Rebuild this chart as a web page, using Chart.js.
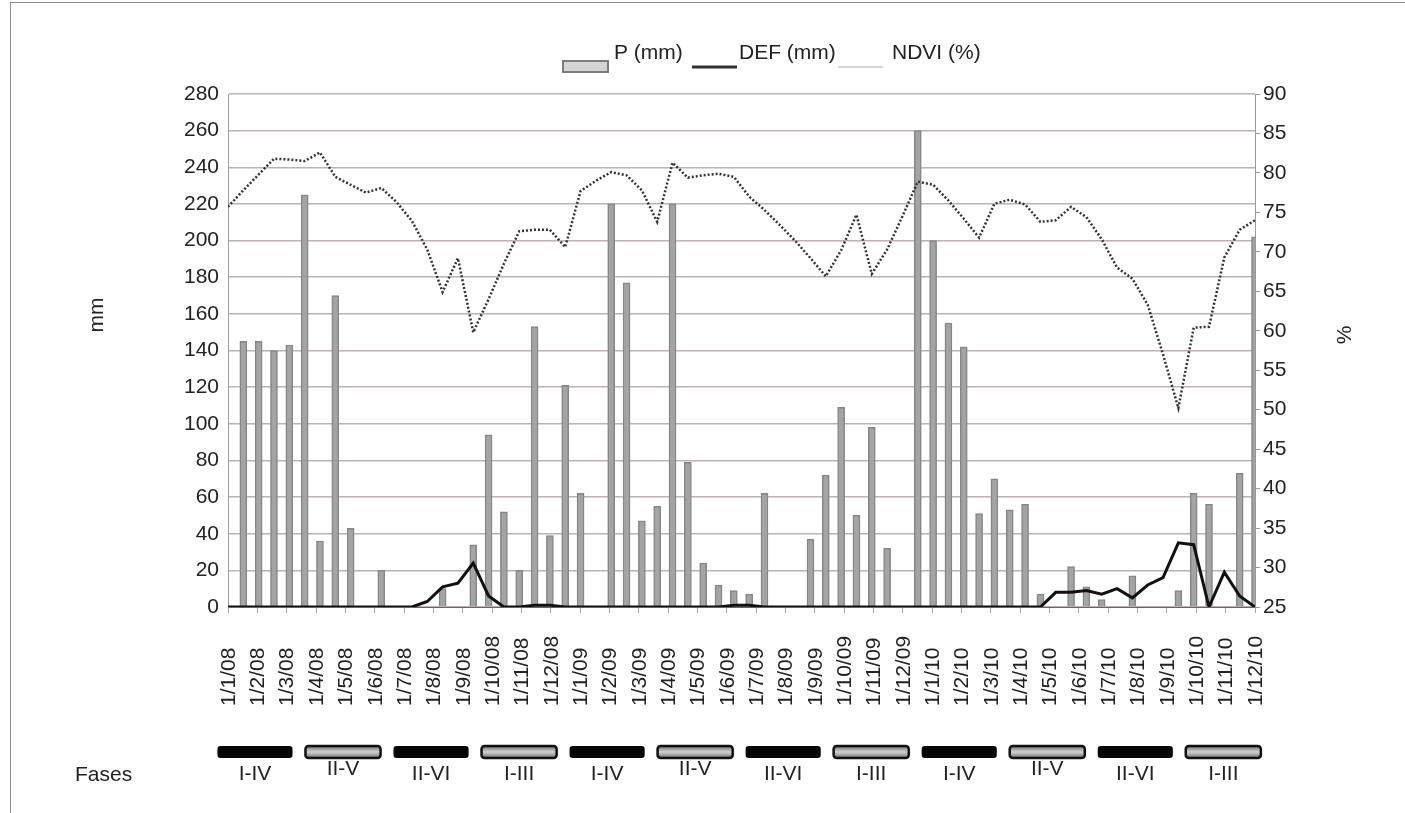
<!DOCTYPE html>
<html>
<head>
<meta charset="utf-8">
<script src="https://cdn.jsdelivr.net/npm/chart.js@4.4.1/dist/chart.umd.min.js"></script>
<style>
  html, body { margin: 0; padding: 0; background: #fff; }
  #wrap { position: relative; width: 1405px; height: 813px; overflow: hidden; }
  #frame { position: absolute; left: 10px; top: 2px; right: -2px; bottom: -2px;
           border-top: 1px solid #8c8c8c; border-left: 1px solid #8c8c8c; }
  #chart { position: absolute; left: 0; top: 0; }
</style>
</head>
<body>
<div id="wrap">
  <div id="frame"></div>
  <canvas id="chart" width="1405" height="813"></canvas>
</div>
<script>
// month tick labels along the bottom axis
const monthLabels = [
  '1/1/08', '1/2/08', '1/3/08', '1/4/08', '1/5/08', '1/6/08',
  '1/7/08', '1/8/08', '1/9/08', '1/10/08', '1/11/08', '1/12/08',
  '1/1/09', '1/2/09', '1/3/09', '1/4/09', '1/5/09', '1/6/09',
  '1/7/09', '1/8/09', '1/9/09', '1/10/09', '1/11/09', '1/12/09',
  '1/1/10', '1/2/10', '1/3/10', '1/4/10', '1/5/10', '1/6/10',
  '1/7/10', '1/8/10', '1/9/10', '1/10/10', '1/11/10', '1/12/10'
];

// P (mm) - one value per period, first period has no bar
const precip = [
  null, 145, 145, 140, 143, 225, 36, 170, 43, 0,
  20, 0, 0, 0, 10, 0, 34, 94, 52, 20,
  153, 39, 121, 62, 0, 220, 177, 47, 55, 220,
  79, 24, 12, 9, 7, 62, 0, 0, 37, 72,
  109, 50, 98, 32, 0, 260, 200, 155, 142, 51,
  70, 53, 56, 7, 0, 22, 11, 4, 0, 17,
  0, 0, 9, 62, 56, 0, 73, 202
];

// DEF (mm)
const deficit = [
  0, 0, 0, 0, 0, 0, 0, 0, 0, 0,
  0, 0, 0, 3, 11, 13, 24, 6, 0, 0,
  1, 1, 0, 0, 0, 0, 0, 0, 0, 0,
  0, 0, 0, 1, 1, 0, 0, 0, 0, 0,
  0, 0, 0, 0, 0, 0, 0, 0, 0, 0,
  0, 0, 0, 0, 8, 8, 9, 7, 10, 5,
  12, 16, 35, 34, 0, 19, 6, 0
];

// NDVI (%)
const ndvi = [
  75.7, 77.8, 79.8, 81.8, 81.7, 81.5, 82.6, 79.5, 78.5, 77.5,
  78.1, 76.3, 73.9, 70.3, 64.9, 69.2, 59.8, 64.0, 68.5, 72.6,
  72.8, 72.8, 70.6, 77.7, 79.0, 80.1, 79.7, 77.8, 73.8, 81.3,
  79.4, 79.7, 79.9, 79.5, 77.0, 75.3, 73.4, 71.4, 69.2, 66.9,
  70.2, 74.7, 67.2, 70.3, 74.5, 78.9, 78.5, 76.5, 74.2, 71.8,
  76.1, 76.6, 76.0, 73.8, 74.0, 75.7, 74.4, 71.6, 68.0, 66.6,
  63.3, 57.0, 50.2, 60.4, 60.5, 69.3, 72.8, 74.0
];

// phases under the axis, one per quarter
const phaseLabels = ['I-IV', 'II-V', 'II-VI', 'I-III', 'I-IV', 'II-V', 'II-VI', 'I-III', 'I-IV', 'II-V', 'II-VI', 'I-III'];

const FONT = '"Liberation Sans", Arial, sans-serif';
const N = ndvi.length;
const toPoints = arr => arr.map((v, k) => ({ x: k, y: v }));
const monthValue = m => m * (N - 1) / (monthLabels.length - 1);

const decorations = {
  id: 'decorations',
  afterDraw(chart) {
    const ctx = chart.ctx;
    const xs = chart.scales.x;
    const area = chart.chartArea;
    ctx.save();
    ctx.fillStyle = '#222';
    ctx.font = '21px ' + FONT;

    // rotated month labels, aligned at their start
    monthLabels.forEach((lab, m) => {
      const x = xs.getPixelForValue(monthValue(m));
      ctx.save();
      ctx.translate(x + 1, area.bottom + 99);
      ctx.rotate(-Math.PI / 2);
      ctx.textAlign = 'left';
      ctx.textBaseline = 'middle';
      ctx.fillText(lab, 0, 0);
      ctx.restore();
    });

    // axis titles
    [['mm', 97, 315], ['%', 1345, 335]].forEach(([t, x, y]) => {
      ctx.save();
      ctx.translate(x, y);
      ctx.rotate(-Math.PI / 2);
      ctx.textAlign = 'center';
      ctx.textBaseline = 'middle';
      ctx.fillText(t, 0, 0);
      ctx.restore();
    });

    // legend
    const ds = chart.data.datasets;
    const iconY = 67, textY = 53;
    ctx.textAlign = 'left';
    ctx.textBaseline = 'middle';
    ctx.fillStyle = '#d4d4d4';
    ctx.strokeStyle = '#7c7c7c';
    ctx.lineWidth = 2;
    ctx.fillRect(563, 61, 45, 11);
    ctx.strokeRect(563, 61, 45, 11);
    ctx.fillStyle = '#222';
    ctx.fillText(ds[2].label, 614, textY);
    ctx.beginPath();
    ctx.moveTo(692, iconY); ctx.lineTo(737, iconY);
    ctx.strokeStyle = '#333'; ctx.lineWidth = 3; ctx.stroke();
    ctx.fillText(ds[0].label, 739, textY);
    ctx.beginPath();
    ctx.moveTo(838, iconY); ctx.lineTo(883, iconY);
    ctx.strokeStyle = '#d6d6d6'; ctx.lineWidth = 2; ctx.stroke();
    ctx.fillText(ds[1].label, 892, textY);

    // phases row
    ctx.fillText('Fases', 75, 775);
    phaseLabels.forEach((lab, j) => {
      const x0 = xs.getPixelForValue(monthValue(3 * j - 0.36));
      const x1 = xs.getPixelForValue(monthValue(3 * j + 2.2));
      const top = 746, h = 12;
      ctx.beginPath();
      ctx.roundRect(x0, top, x1 - x0, h, 3);
      if (j % 2 === 0) {
        ctx.fillStyle = '#050505';
        ctx.fill();
      } else {
        const g = ctx.createLinearGradient(0, top, 0, top + h);
        g.addColorStop(0, '#6e6e6e');
        g.addColorStop(0.5, '#d2d2d2');
        g.addColorStop(1, '#6e6e6e');
        ctx.fillStyle = g;
        ctx.fill();
        ctx.strokeStyle = '#111';
        ctx.lineWidth = 2.5;
        ctx.stroke();
      }
      ctx.fillStyle = '#222';
      ctx.textAlign = 'center';
      ctx.fillText(lab, (x0 + x1) / 2, lab === 'II-V' ? 769 : 774);
      ctx.textAlign = 'left';
    });
    ctx.restore();
  }
};

new Chart(document.getElementById('chart'), {
  type: 'bar',
  data: {
    datasets: [
      {
        type: 'line', label: 'DEF (mm)', data: toPoints(deficit), yAxisID: 'y',
        borderColor: '#111', borderWidth: 3, pointRadius: 0, tension: 0, order: 1
      },
      {
        type: 'line', label: 'NDVI (%)', data: toPoints(ndvi), yAxisID: 'y1',
        borderColor: '#333', borderWidth: 2.5, borderDash: [2, 2], pointRadius: 0, tension: 0, order: 2
      },
      {
        type: 'bar', label: 'P (mm)', data: toPoints(precip), yAxisID: 'y',
        backgroundColor: '#a4a4a4', borderColor: '#868686', borderWidth: 1.5,
        borderSkipped: 'start', barThickness: 7, order: 3
      }
    ]
  },
  options: {
    responsive: false,
    animation: false,
    layout: { padding: { top: 94, left: 0, right: 0, bottom: 0 } },
    plugins: { legend: { display: false }, tooltip: { enabled: false } },
    scales: {
      x: {
        type: 'linear', min: 0, max: N - 1, offset: false,
        afterBuildTicks: s => { s.ticks = monthLabels.map((_, m) => ({ value: monthValue(m) })); },
        afterFit: s => { s.height = 206; },
        grid: { drawOnChartArea: false, drawTicks: true, tickLength: 6, color: '#a8a8a8', offset: false },
        border: { display: true, color: '#666', width: 1 },
        ticks: { display: false }
      },
      y: {
        position: 'left', min: 0, max: 280,
        afterFit: s => { s.width = 228; },
        ticks: { stepSize: 20, padding: 9, color: '#222', font: { family: FONT, size: 21 } },
        grid: { color: '#bcb2b2', lineWidth: 1.5, drawTicks: false },
        border: { display: true, color: '#a0a0a0' }
      },
      y1: {
        position: 'right', min: 25, max: 90,
        afterFit: s => { s.width = 150; },
        ticks: { stepSize: 5, padding: 3, color: '#222', font: { family: FONT, size: 21 } },
        grid: { drawOnChartArea: false, drawTicks: true, tickLength: 5, color: '#999' },
        border: { display: true, color: '#999' }
      }
    }
  },
  plugins: [decorations]
});
</script>
</body>
</html>
